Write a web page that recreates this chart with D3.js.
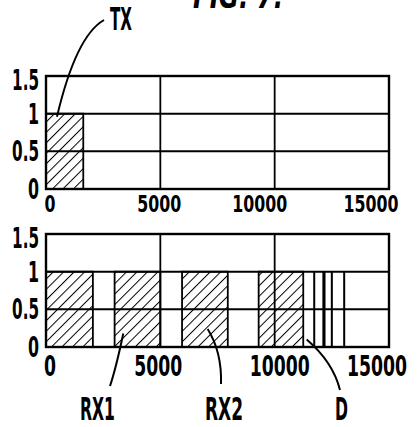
<!DOCTYPE html>
<html>
<head>
<meta charset="utf-8">
<script src="https://cdn.jsdelivr.net/npm/d3@7"></script>
<style>
  body { margin: 0; background: #fff; }
  text { font-family: "Liberation Sans Narrow", "DejaVu Sans Condensed", sans-serif; font-weight: bold; fill: #000; }
</style>
</head>
<body>
<div id="chart"></div>
<script>
// chart values
var xTicks = [0, 5000, 10000, 15000];
var yTicks = [0, 0.5, 1, 1.5];
var yTickLabels = ["0", "0.5", "1", "1.5"];
var txPulses = [[0, 1630]];
var rxPulses = [[0, 2050], [3000, 5000], [5950, 7950], [9300, 11250]];
var dLines = [11730, 12130, 12180, 12500, 13040];
var pulseLevel = 1;

var svgWidth = 418;
var svgHeight = 427;

var svg = d3.select("#chart")
    .append("svg")
    .attr("width", svgWidth)
    .attr("height", svgHeight)
    .style("display", "block");

svg.append("rect").attr("width", svgWidth).attr("height", svgHeight).attr("fill", "#fff");

// hatch pattern "/"
var defs = svg.append("defs");
defs.append("pattern")
    .attr("id", "hatch")
    .attr("patternUnits", "userSpaceOnUse")
    .attr("width", 7.4)
    .attr("height", 7.4)
    .attr("patternTransform", "rotate(45)")
    .append("line")
    .attr("x1", 0).attr("y1", 0)
    .attr("x2", 0).attr("y2", 7.4)
    .attr("stroke", "#000")
    .attr("stroke-width", 2);

var xScale = d3.scaleLinear().domain([0, 15000]).range([46, 389]);

// condensed look: squeeze text to a width per character
function labelWidth(s, digit) {
    return s.split("").reduce((w, c) => w + (c === "." ? digit * 0.45 : digit), 0);
}

// title, cut off at the top edge
svg.append("text")
    .attr("x", 193)
    .attr("y", 8)
    .attr("font-size", 34)
    .attr("font-style", "italic")
    .attr("textLength", 90)
    .attr("lengthAdjust", "spacingAndGlyphs")
    .text("FIG. 7.");

function drawPanel(top, bottom, pulses, lines, xFont, xDigit, xBase, xShift) {
    var yScale = d3.scaleLinear().domain([0, 1.5]).range([bottom, top]);
    var g = svg.append("g");

    // hatched pulses
    g.selectAll("rect.pulse")
        .data(pulses)
        .enter()
        .append("rect")
        .attr("class", "pulse")
        .attr("x", d => xScale(d[0]))
        .attr("y", yScale(pulseLevel))
        .attr("width", d => xScale(d[1]) - xScale(d[0]))
        .attr("height", yScale(0) - yScale(pulseLevel))
        .attr("fill", "url(#hatch)")
        .attr("stroke", "#000")
        .attr("stroke-width", 1.8);

    // narrow pulses
    g.selectAll("line.dline")
        .data(lines)
        .enter()
        .append("line")
        .attr("class", "dline")
        .attr("x1", d => xScale(d))
        .attr("x2", d => xScale(d))
        .attr("y1", yScale(0))
        .attr("y2", yScale(pulseLevel))
        .attr("stroke", "#000")
        .attr("stroke-width", 2);

    // grid
    g.selectAll("line.vgrid")
        .data(xTicks.slice(1, -1))
        .enter()
        .append("line")
        .attr("x1", d => xScale(d))
        .attr("x2", d => xScale(d))
        .attr("y1", yScale(0))
        .attr("y2", yScale(1.5))
        .attr("stroke", "#000")
        .attr("stroke-width", 1.8);

    g.selectAll("line.hgrid")
        .data(yTicks.slice(1, -1))
        .enter()
        .append("line")
        .attr("x1", xScale(0))
        .attr("x2", xScale(15000))
        .attr("y1", d => yScale(d))
        .attr("y2", d => yScale(d))
        .attr("stroke", "#000")
        .attr("stroke-width", 2);

    // frame
    g.append("rect")
        .attr("x", xScale(0))
        .attr("y", yScale(1.5))
        .attr("width", xScale(15000) - xScale(0))
        .attr("height", yScale(0) - yScale(1.5))
        .attr("fill", "none")
        .attr("stroke", "#000")
        .attr("stroke-width", 2.4);

    // y labels
    g.selectAll("text.ylab")
        .data(yTicks)
        .enter()
        .append("text")
        .attr("x", 39)
        .attr("y", d => yScale(d) + 10 + (d === 1.5 ? 4 : 0))
        .attr("text-anchor", "end")
        .attr("font-size", 28)
        .attr("textLength", (d, i) => labelWidth(yTickLabels[i], 11))
        .attr("lengthAdjust", "spacingAndGlyphs")
        .text((d, i) => yTickLabels[i]);

    // x labels
    g.selectAll("text.xlab")
        .data(xTicks)
        .enter()
        .append("text")
        .attr("x", (d, i) => xScale(d) + xShift[i])
        .attr("y", xBase)
        .attr("text-anchor", "middle")
        .attr("font-size", xFont)
        .attr("textLength", d => labelWidth(String(d), xDigit))
        .attr("lengthAdjust", "spacingAndGlyphs")
        .text(d => d);

    return yScale;
}

var yTop = drawPanel(76, 189, txPulses, [], 23, 11, 212, [4, -1, -15, -18]);
var yBot = drawPanel(234, 347, rxPulses, dLines, 28, 12, 376, [4, -2, 5, -12]);

// leader lines and labels
function leader(x0, y0, cx, cy, x1, y1) {
    var p = d3.path();
    p.moveTo(x0, y0);
    p.quadraticCurveTo(cx, cy, x1, y1);
    svg.append("path")
        .attr("d", p.toString())
        .attr("fill", "none")
        .attr("stroke", "#000")
        .attr("stroke-width", 2);
}

leader(xScale(480), yTop(0.96), 76, 36, 104, 20);
leader(xScale(3380), yBot(0.18), 116, 368, 110, 386);
leader(xScale(7070), yBot(0.24), 222, 352, 221, 384);
leader(xScale(11400), yBot(0.1), 333, 362, 340, 390);

var labels = [
    { text: "TX", x: 110, y: 30, w: 22 },
    { text: "RX1", x: 80, y: 420, w: 35 },
    { text: "RX2", x: 205, y: 420, w: 38 },
    { text: "D", x: 335, y: 420, w: 13 }
];

svg.selectAll("text.note")
    .data(labels)
    .enter()
    .append("text")
    .attr("class", "note")
    .attr("x", d => d.x)
    .attr("y", d => d.y)
    .attr("font-size", 32)
    .attr("textLength", d => d.w)
    .attr("lengthAdjust", "spacingAndGlyphs")
    .text(d => d.text);
</script>
</body>
</html>
